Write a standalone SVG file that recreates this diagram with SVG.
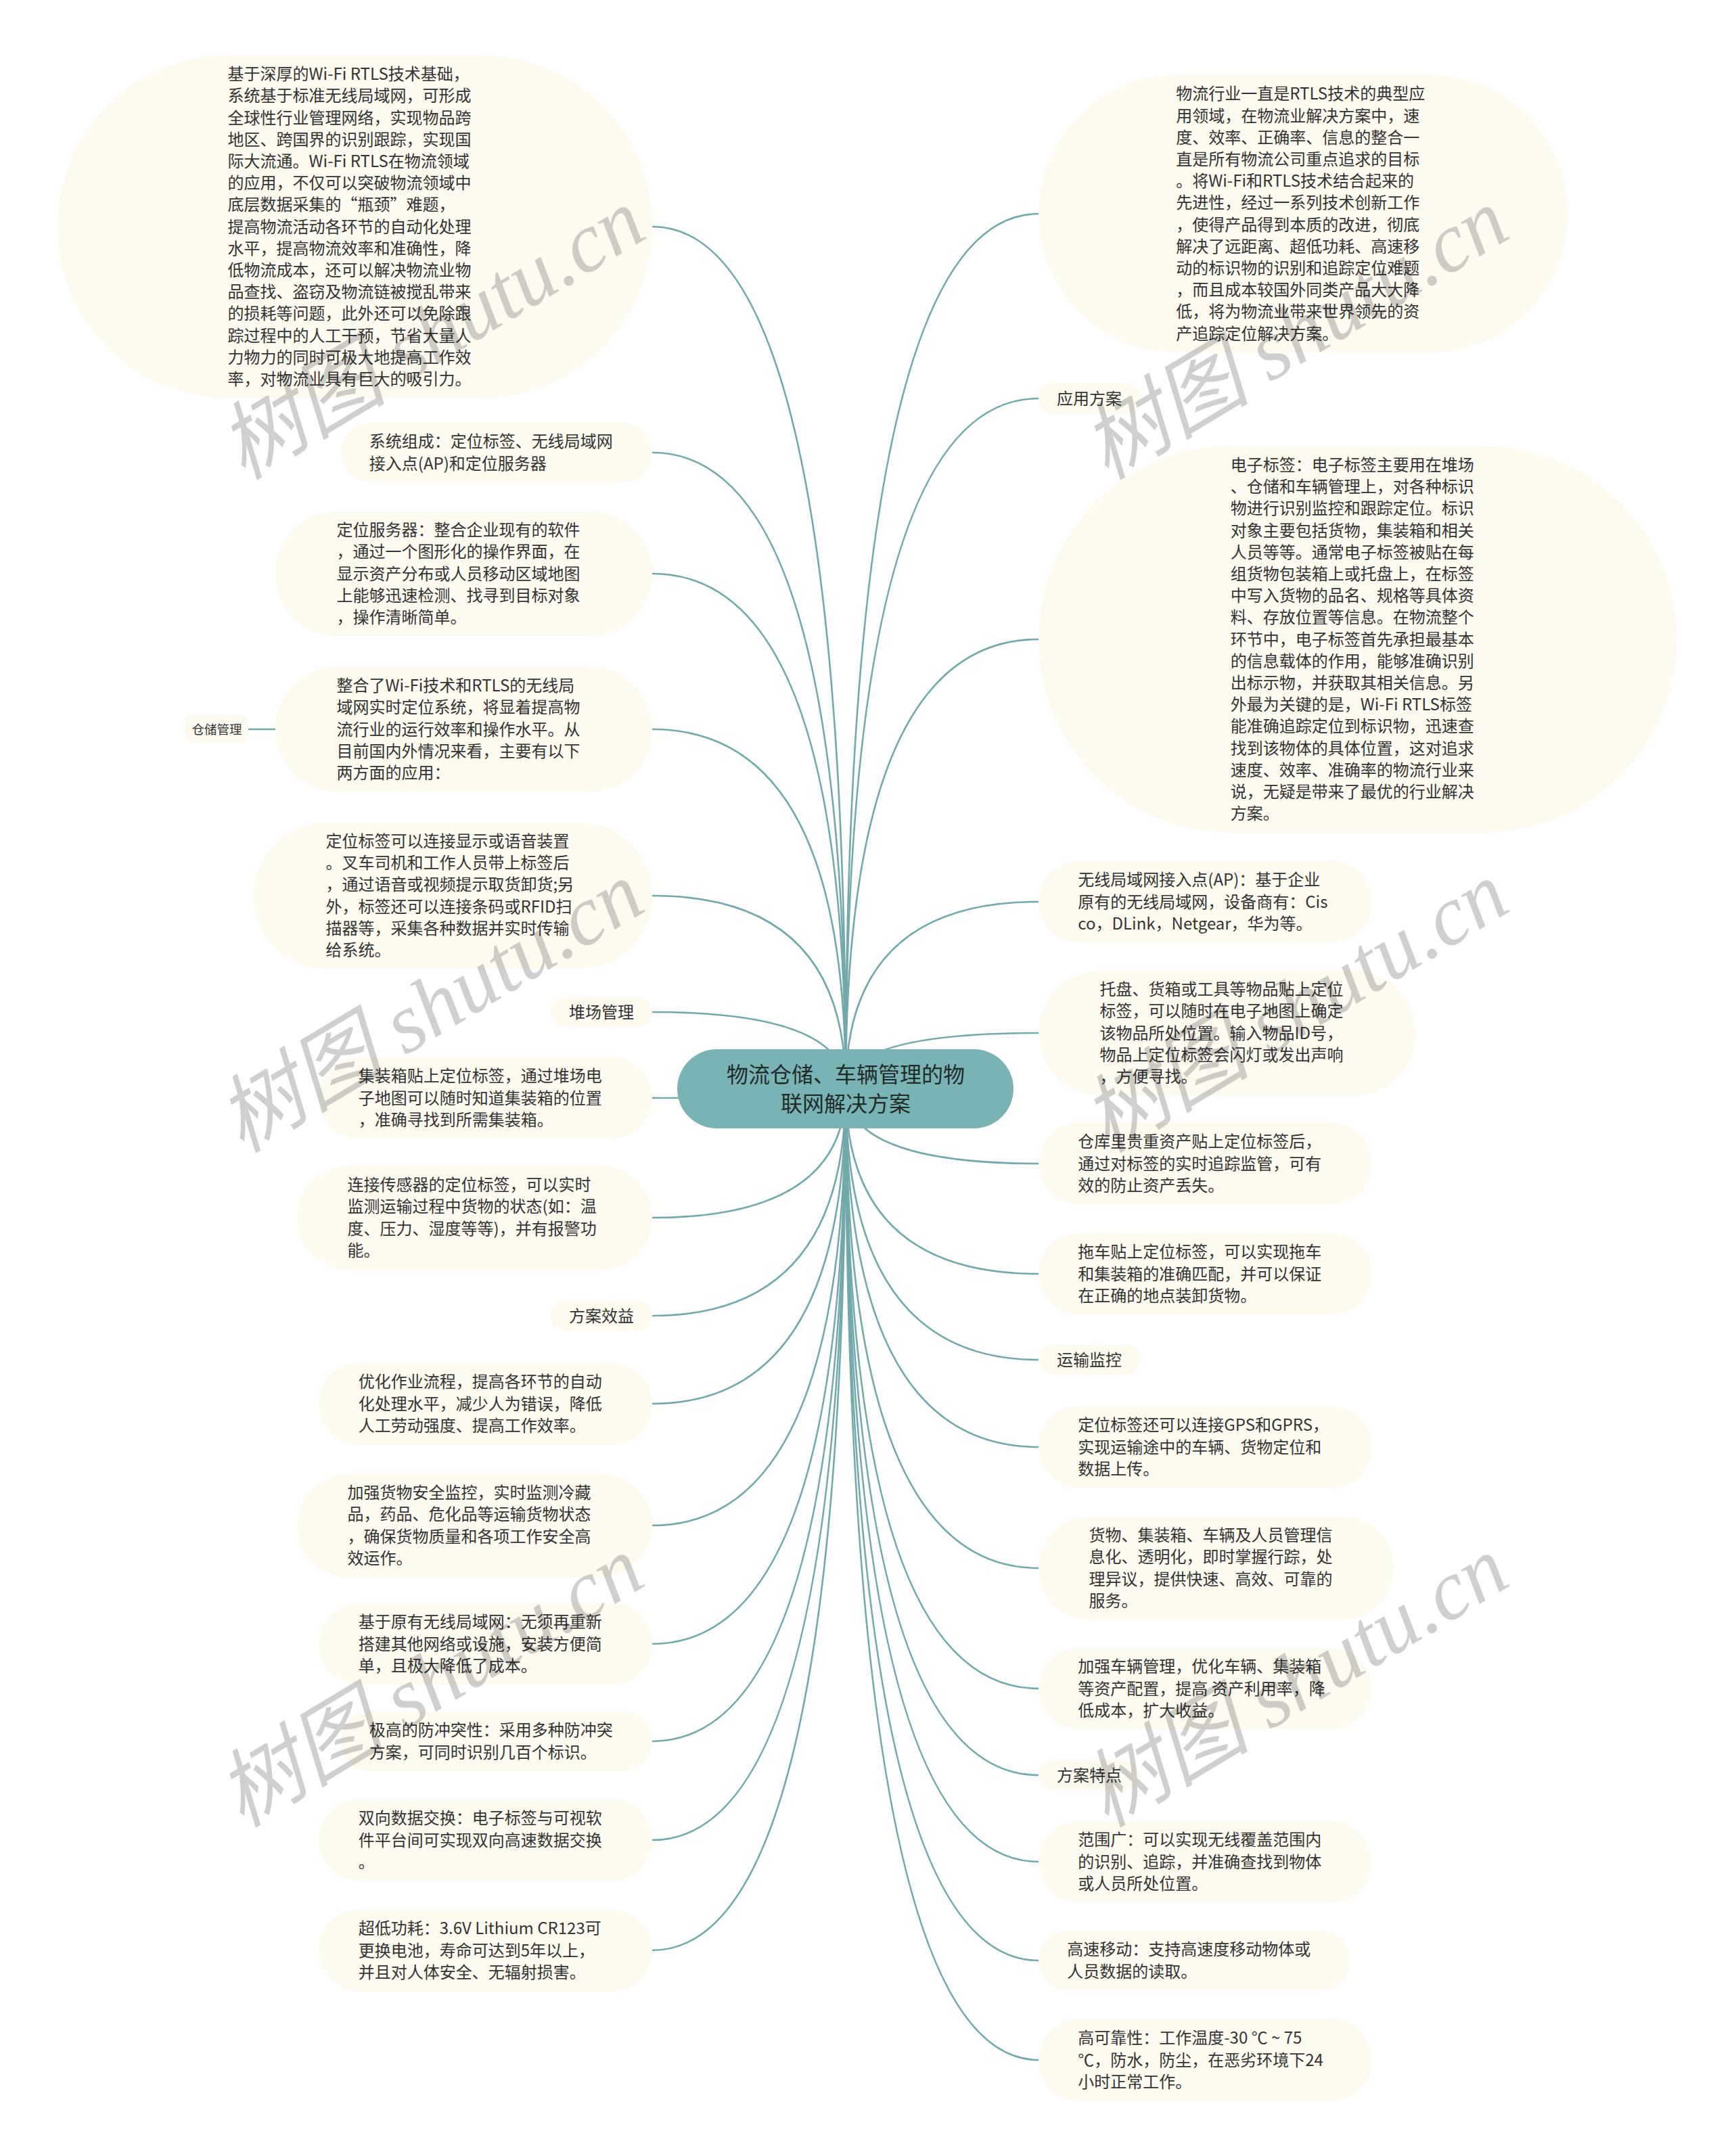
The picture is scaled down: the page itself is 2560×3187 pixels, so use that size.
<svg xmlns="http://www.w3.org/2000/svg" width="2560" height="3187" viewBox="0 0 2560 3187">
<style>
.bg{fill:#ffffff}
.b{fill:#fdfaf0}
.t{font-family:"Noto Sans CJK SC","Liberation Sans",sans-serif;font-size:24px;fill:#333333}
.lb{font-family:"Noto Sans CJK SC","Liberation Sans",sans-serif;font-size:24px;fill:#333333;text-anchor:middle}
.c{fill:none;stroke:#72a9ab;stroke-width:2.6}
.root{fill:#7ab3b4}
.rt{font-family:"Noto Sans CJK SC","Liberation Sans",sans-serif;font-size:32px;fill:#1f2b2b;text-anchor:middle}
.wm{font-family:"Liberation Serif","Noto Sans CJK SC",serif;font-style:italic;font-size:125px;fill:#000000;fill-opacity:0.19;text-anchor:middle}
</style>
<rect class="bg" x="0" y="0" width="2560" height="3187"/>
<g id="connectors">
<path class="c" d="M1250,1609 Q1250,335 964,335"/>
<path class="c" d="M1250,1609 Q1250,669 964,669"/>
<path class="c" d="M1250,1609 Q1250,848 964,848"/>
<path class="c" d="M1250,1609 Q1250,1078 964,1078"/>
<path class="c" d="M1250,1609 Q1250,1324 964,1324"/>
<path class="c" d="M1250,1609 Q1250,1496 964,1496"/>
<path class="c" d="M1250,1609 Q1250,1623 964,1623"/>
<path class="c" d="M1250,1609 Q1250,1800 964,1800"/>
<path class="c" d="M1250,1609 Q1250,1945 964,1945"/>
<path class="c" d="M1250,1609 Q1250,2075 964,2075"/>
<path class="c" d="M1250,1609 Q1250,2255 964,2255"/>
<path class="c" d="M1250,1609 Q1250,2430 964,2430"/>
<path class="c" d="M1250,1609 Q1250,2574 964,2574"/>
<path class="c" d="M1250,1609 Q1250,2720 964,2720"/>
<path class="c" d="M1250,1609 Q1250,2883 964,2883"/>
<path class="c" d="M1250,1609 Q1250,316 1535,316"/>
<path class="c" d="M1250,1609 Q1250,589 1535,589"/>
<path class="c" d="M1250,1609 Q1250,945 1535,945"/>
<path class="c" d="M1250,1609 Q1250,1333 1535,1333"/>
<path class="c" d="M1250,1609 Q1250,1527 1535,1527"/>
<path class="c" d="M1250,1609 Q1250,1720 1535,1720"/>
<path class="c" d="M1250,1609 Q1250,1883 1535,1883"/>
<path class="c" d="M1250,1609 Q1250,2010 1535,2010"/>
<path class="c" d="M1250,1609 Q1250,2139 1535,2139"/>
<path class="c" d="M1250,1609 Q1250,2318 1535,2318"/>
<path class="c" d="M1250,1609 Q1250,2496 1535,2496"/>
<path class="c" d="M1250,1609 Q1250,2624 1535,2624"/>
<path class="c" d="M1250,1609 Q1250,2752 1535,2752"/>
<path class="c" d="M1250,1609 Q1250,2898 1535,2898"/>
<path class="c" d="M1250,1609 Q1250,3045 1535,3045"/>
<path class="c" d="M367,1078 L407,1078"/>
</g>
<g id="root">
<rect class="root" x="1001" y="1551" width="497" height="117" rx="58.5"/>
<text class="rt" x="1250" y="1600">物流仓储、车辆管理的物</text>
<text class="rt" x="1250" y="1643">联网解决方案</text>
</g>
<g id="n-L1">
<rect class="b" x="85" y="81.5" width="879" height="507" rx="253.5"/>
<text class="t" y="118.1"><tspan x="336.5">基于深厚的Wi-Fi RTLS技术基础，</tspan><tspan x="336.5" dy="32.2">系统基于标准无线局域网，可形成</tspan><tspan x="336.5" dy="32.2">全球性行业管理网络，实现物品跨</tspan><tspan x="336.5" dy="32.2">地区、跨国界的识别跟踪，实现国</tspan><tspan x="336.5" dy="32.2">际大流通。Wi-Fi RTLS在物流领域</tspan><tspan x="336.5" dy="32.2">的应用，不仅可以突破物流领域中</tspan><tspan x="336.5" dy="32.2">底层数据采集的“瓶颈”难题，</tspan><tspan x="336.5" dy="32.2">提高物流活动各环节的自动化处理</tspan><tspan x="336.5" dy="32.2">水平，提高物流效率和准确性，降</tspan><tspan x="336.5" dy="32.2">低物流成本，还可以解决物流业物</tspan><tspan x="336.5" dy="32.2">品查找、盗窃及物流链被搅乱带来</tspan><tspan x="336.5" dy="32.2">的损耗等问题，此外还可以免除跟</tspan><tspan x="336.5" dy="32.2">踪过程中的人工干预，节省大量人</tspan><tspan x="336.5" dy="32.2">力物力的同时可极大地提高工作效</tspan><tspan x="336.5" dy="32.2">率，对物流业具有巨大的吸引力。</tspan></text>
</g>
<g id="n-L2">
<rect class="b" x="503.6" y="624.8" width="460.4" height="88.4" rx="44.2"/>
<text class="t" y="661.4"><tspan x="545.8">系统组成：定位标签、无线局域网</tspan><tspan x="545.8" dy="32.2">接入点(AP)和定位服务器</tspan></text>
</g>
<g id="n-L3">
<rect class="b" x="407" y="755.5" width="557" height="185" rx="92.5"/>
<text class="t" y="792.1"><tspan x="497.5">定位服务器：整合企业现有的软件</tspan><tspan x="497.5" dy="32.2">，通过一个图形化的操作界面，在</tspan><tspan x="497.5" dy="32.2">显示资产分布或人员移动区域地图</tspan><tspan x="497.5" dy="32.2">上能够迅速检测、找寻到目标对象</tspan><tspan x="497.5" dy="32.2">，操作清晰简单。</tspan></text>
</g>
<g id="n-L4">
<rect class="b" x="407" y="985.5" width="557" height="185" rx="92.5"/>
<text class="t" y="1022.1"><tspan x="497.5">整合了Wi-Fi技术和RTLS的无线局</tspan><tspan x="497.5" dy="32.2">域网实时定位系统，将显着提高物</tspan><tspan x="497.5" dy="32.2">流行业的运行效率和操作水平。从</tspan><tspan x="497.5" dy="32.2">目前国内外情况来看，主要有以下</tspan><tspan x="497.5" dy="32.2">两方面的应用：</tspan></text>
</g>
<g id="n-cangchu">
<rect class="b" x="274" y="1057" width="93" height="41" rx="10"/>
<text class="lb" x="320.5" y="1084.5" style="font-size:18.5px">仓储管理</text>
</g>
<g id="n-L5">
<rect class="b" x="374.8" y="1215.4" width="589.2" height="217.2" rx="108.6"/>
<text class="t" y="1252"><tspan x="481.4">定位标签可以连接显示或语音装置</tspan><tspan x="481.4" dy="32.2">。叉车司机和工作人员带上标签后</tspan><tspan x="481.4" dy="32.2">，通过语音或视频提示取货卸货;另</tspan><tspan x="481.4" dy="32.2">外，标签还可以连接条码或RFID扫</tspan><tspan x="481.4" dy="32.2">描器等，采集各种数据并实时传输</tspan><tspan x="481.4" dy="32.2">给系统。</tspan></text>
</g>
<g id="n-L6">
<rect class="b" x="814" y="1473.5" width="150" height="45" rx="22.5"/>
<text class="lb" x="889" y="1504.5">堆场管理</text>
</g>
<g id="n-L7">
<rect class="b" x="471.4" y="1562.7" width="492.6" height="120.6" rx="60.3"/>
<text class="t" y="1599.3"><tspan x="529.7">集装箱贴上定位标签，通过堆场电</tspan><tspan x="529.7" dy="32.2">子地图可以随时知道集装箱的位置</tspan><tspan x="529.7" dy="32.2">，准确寻找到所需集装箱。</tspan></text>
</g>
<g id="n-L8">
<rect class="b" x="439.2" y="1723.6" width="524.8" height="152.8" rx="76.4"/>
<text class="t" y="1760.2"><tspan x="513.6">连接传感器的定位标签，可以实时</tspan><tspan x="513.6" dy="32.2">监测运输过程中货物的状态(如：温</tspan><tspan x="513.6" dy="32.2">度、压力、湿度等等)，并有报警功</tspan><tspan x="513.6" dy="32.2">能。</tspan></text>
</g>
<g id="n-L9">
<rect class="b" x="814" y="1922.5" width="150" height="45" rx="22.5"/>
<text class="lb" x="889" y="1953.5">方案效益</text>
</g>
<g id="n-L10">
<rect class="b" x="471.4" y="2014.7" width="492.6" height="120.6" rx="60.3"/>
<text class="t" y="2051.3"><tspan x="529.7">优化作业流程，提高各环节的自动</tspan><tspan x="529.7" dy="32.2">化处理水平，减少人为错误，降低</tspan><tspan x="529.7" dy="32.2">人工劳动强度、提高工作效率。</tspan></text>
</g>
<g id="n-L11">
<rect class="b" x="439.2" y="2178.6" width="524.8" height="152.8" rx="76.4"/>
<text class="t" y="2215.2"><tspan x="513.6">加强货物安全监控，实时监测冷藏</tspan><tspan x="513.6" dy="32.2">品，药品、危化品等运输货物状态</tspan><tspan x="513.6" dy="32.2">，确保货物质量和各项工作安全高</tspan><tspan x="513.6" dy="32.2">效运作。</tspan></text>
</g>
<g id="n-L12">
<rect class="b" x="471.4" y="2369.7" width="492.6" height="120.6" rx="60.3"/>
<text class="t" y="2406.3"><tspan x="529.7">基于原有无线局域网：无须再重新</tspan><tspan x="529.7" dy="32.2">搭建其他网络或设施，安装方便简</tspan><tspan x="529.7" dy="32.2">单，且极大降低了成本。</tspan></text>
</g>
<g id="n-L13">
<rect class="b" x="503.6" y="2529.8" width="460.4" height="88.4" rx="44.2"/>
<text class="t" y="2566.4"><tspan x="545.8">极高的防冲突性：采用多种防冲突</tspan><tspan x="545.8" dy="32.2">方案，可同时识别几百个标识。</tspan></text>
</g>
<g id="n-L14">
<rect class="b" x="471.4" y="2659.7" width="492.6" height="120.6" rx="60.3"/>
<text class="t" y="2696.3"><tspan x="529.7">双向数据交换：电子标签与可视软</tspan><tspan x="529.7" dy="32.2">件平台间可实现双向高速数据交换</tspan><tspan x="529.7" dy="32.2">。</tspan></text>
</g>
<g id="n-L15">
<rect class="b" x="471.4" y="2822.7" width="492.6" height="120.6" rx="60.3"/>
<text class="t" y="2859.3"><tspan x="529.7">超低功耗：3.6V Lithium CR123可</tspan><tspan x="529.7" dy="32.2">更换电池，寿命可达到5年以上，</tspan><tspan x="529.7" dy="32.2">并且对人体安全、无辐射损害。</tspan></text>
</g>
<g id="n-R1">
<rect class="b" x="1535" y="110.8" width="782.4" height="410.4" rx="205.2"/>
<text class="t" y="147.4"><tspan x="1738.2">物流行业一直是RTLS技术的典型应</tspan><tspan x="1738.2" dy="32.2">用领域，在物流业解决方案中，速</tspan><tspan x="1738.2" dy="32.2">度、效率、正确率、信息的整合一</tspan><tspan x="1738.2" dy="32.2">直是所有物流公司重点追求的目标</tspan><tspan x="1738.2" dy="32.2">。将Wi-Fi和RTLS技术结合起来的</tspan><tspan x="1738.2" dy="32.2">先进性，经过一系列技术创新工作</tspan><tspan x="1738.2" dy="32.2">，使得产品得到本质的改进，彻底</tspan><tspan x="1738.2" dy="32.2">解决了远距离、超低功耗、高速移</tspan><tspan x="1738.2" dy="32.2">动的标识物的识别和追踪定位难题</tspan><tspan x="1738.2" dy="32.2">，而且成本较国外同类产品大大降</tspan><tspan x="1738.2" dy="32.2">低，将为物流业带来世界领先的资</tspan><tspan x="1738.2" dy="32.2">产追踪定位解决方案。</tspan></text>
</g>
<g id="n-R2">
<rect class="b" x="1535" y="566.5" width="150" height="45" rx="22.5"/>
<text class="lb" x="1610" y="597.5">应用方案</text>
</g>
<g id="n-R3">
<rect class="b" x="1535" y="659.3" width="943.4" height="571.4" rx="285.7"/>
<text class="t" y="695.9"><tspan x="1818.7">电子标签：电子标签主要用在堆场</tspan><tspan x="1818.7" dy="32.2">、仓储和车辆管理上，对各种标识</tspan><tspan x="1818.7" dy="32.2">物进行识别监控和跟踪定位。标识</tspan><tspan x="1818.7" dy="32.2">对象主要包括货物，集装箱和相关</tspan><tspan x="1818.7" dy="32.2">人员等等。通常电子标签被贴在每</tspan><tspan x="1818.7" dy="32.2">组货物包装箱上或托盘上，在标签</tspan><tspan x="1818.7" dy="32.2">中写入货物的品名、规格等具体资</tspan><tspan x="1818.7" dy="32.2">料、存放位置等信息。在物流整个</tspan><tspan x="1818.7" dy="32.2">环节中，电子标签首先承担最基本</tspan><tspan x="1818.7" dy="32.2">的信息载体的作用，能够准确识别</tspan><tspan x="1818.7" dy="32.2">出标示物，并获取其相关信息。另</tspan><tspan x="1818.7" dy="32.2">外最为关键的是，Wi-Fi RTLS标签</tspan><tspan x="1818.7" dy="32.2">能准确追踪定位到标识物，迅速查</tspan><tspan x="1818.7" dy="32.2">找到该物体的具体位置，这对追求</tspan><tspan x="1818.7" dy="32.2">速度、效率、准确率的物流行业来</tspan><tspan x="1818.7" dy="32.2">说，无疑是带来了最优的行业解决</tspan><tspan x="1818.7" dy="32.2">方案。</tspan></text>
</g>
<g id="n-R4">
<rect class="b" x="1535" y="1272.7" width="492.6" height="120.6" rx="60.3"/>
<text class="t" y="1309.3"><tspan x="1593.3">无线局域网接入点(AP)：基于企业</tspan><tspan x="1593.3" dy="32.2">原有的无线局域网，设备商有：Cis</tspan><tspan x="1593.3" dy="32.2">co，DLink，Netgear，华为等。</tspan></text>
</g>
<g id="n-R5">
<rect class="b" x="1535" y="1434.5" width="557" height="185" rx="92.5"/>
<text class="t" y="1471.1"><tspan x="1625.5">托盘、货箱或工具等物品贴上定位</tspan><tspan x="1625.5" dy="32.2">标签，可以随时在电子地图上确定</tspan><tspan x="1625.5" dy="32.2">该物品所处位置。输入物品ID号，</tspan><tspan x="1625.5" dy="32.2">物品上定位标签会闪灯或发出声响</tspan><tspan x="1625.5" dy="32.2">，方便寻找。</tspan></text>
</g>
<g id="n-R6">
<rect class="b" x="1535" y="1659.7" width="492.6" height="120.6" rx="60.3"/>
<text class="t" y="1696.3"><tspan x="1593.3">仓库里贵重资产贴上定位标签后，</tspan><tspan x="1593.3" dy="32.2">通过对标签的实时追踪监管，可有</tspan><tspan x="1593.3" dy="32.2">效的防止资产丢失。</tspan></text>
</g>
<g id="n-R7">
<rect class="b" x="1535" y="1822.7" width="492.6" height="120.6" rx="60.3"/>
<text class="t" y="1859.3"><tspan x="1593.3">拖车贴上定位标签，可以实现拖车</tspan><tspan x="1593.3" dy="32.2">和集装箱的准确匹配，并可以保证</tspan><tspan x="1593.3" dy="32.2">在正确的地点装卸货物。</tspan></text>
</g>
<g id="n-R8">
<rect class="b" x="1535" y="1987.5" width="150" height="45" rx="22.5"/>
<text class="lb" x="1610" y="2018.5">运输监控</text>
</g>
<g id="n-R9">
<rect class="b" x="1535" y="2078.7" width="492.6" height="120.6" rx="60.3"/>
<text class="t" y="2115.3"><tspan x="1593.3">定位标签还可以连接GPS和GPRS，</tspan><tspan x="1593.3" dy="32.2">实现运输途中的车辆、货物定位和</tspan><tspan x="1593.3" dy="32.2">数据上传。</tspan></text>
</g>
<g id="n-R10">
<rect class="b" x="1535" y="2241.6" width="524.8" height="152.8" rx="76.4"/>
<text class="t" y="2278.2"><tspan x="1609.4">货物、集装箱、车辆及人员管理信</tspan><tspan x="1609.4" dy="32.2">息化、透明化，即时掌握行踪，处</tspan><tspan x="1609.4" dy="32.2">理异议，提供快速、高效、可靠的</tspan><tspan x="1609.4" dy="32.2">服务。</tspan></text>
</g>
<g id="n-R11">
<rect class="b" x="1535" y="2435.7" width="492.6" height="120.6" rx="60.3"/>
<text class="t" y="2472.3"><tspan x="1593.3">加强车辆管理，优化车辆、集装箱</tspan><tspan x="1593.3" dy="32.2">等资产配置，提高 资产利用率，降</tspan><tspan x="1593.3" dy="32.2">低成本，扩大收益。</tspan></text>
</g>
<g id="n-R12">
<rect class="b" x="1535" y="2601.5" width="150" height="45" rx="22.5"/>
<text class="lb" x="1610" y="2632.5">方案特点</text>
</g>
<g id="n-R13">
<rect class="b" x="1535" y="2691.7" width="492.6" height="120.6" rx="60.3"/>
<text class="t" y="2728.3"><tspan x="1593.3">范围广：可以实现无线覆盖范围内</tspan><tspan x="1593.3" dy="32.2">的识别、追踪，并准确查找到物体</tspan><tspan x="1593.3" dy="32.2">或人员所处位置。</tspan></text>
</g>
<g id="n-R14">
<rect class="b" x="1535" y="2853.8" width="460.4" height="88.4" rx="44.2"/>
<text class="t" y="2890.4"><tspan x="1577.2">高速移动：支持高速度移动物体或</tspan><tspan x="1577.2" dy="32.2">人员数据的读取。</tspan></text>
</g>
<g id="n-R15">
<rect class="b" x="1535" y="2984.7" width="492.6" height="120.6" rx="60.3"/>
<text class="t" y="3021.3"><tspan x="1593.3">高可靠性：工作温度-30 ℃ ~ 75</tspan><tspan x="1593.3" dy="32.2">℃，防水，防尘，在恶劣环境下24</tspan><tspan x="1593.3" dy="32.2">小时正常工作。</tspan></text>
</g>
<g id="watermarks">
<text class="wm" transform="translate(660,530) rotate(-31)">树图 shutu.cn</text>
<text class="wm" transform="translate(1936,530) rotate(-31)">树图 shutu.cn</text>
<text class="wm" transform="translate(658,1525) rotate(-31)">树图 shutu.cn</text>
<text class="wm" transform="translate(1936,1525) rotate(-31)">树图 shutu.cn</text>
<text class="wm" transform="translate(658,2522) rotate(-31)">树图 shutu.cn</text>
<text class="wm" transform="translate(1936,2522) rotate(-31)">树图 shutu.cn</text>
</g>
</svg>
